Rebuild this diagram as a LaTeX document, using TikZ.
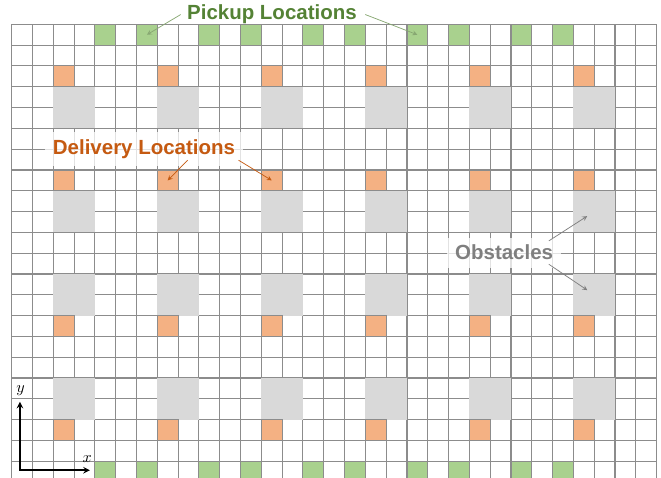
\documentclass[tikz,border=0pt]{standalone}
\usepackage{fontspec}
\setsansfont{Liberation Sans}
\usepackage{xcolor}
\usepackage{tikz}
\usetikzlibrary{arrows, positioning, calc}
\definecolor{pickfill}{HTML}{A9D18E}
\definecolor{pickdark}{HTML}{548235}
\definecolor{delfill}{HTML}{F4B183}
\definecolor{deldark}{HTML}{C55A11}
\definecolor{obsfill}{HTML}{D9D9D9}
\definecolor{obsdark}{HTML}{7F7F7F}
\tikzstyle{gridline} = [draw=black!45, line width=0.75pt]
\tikzstyle{pick} = [rectangle, minimum size=0.5cm, inner sep=0pt, draw=black!45, line width=0.75pt, fill=pickfill]
\tikzstyle{deliv} = [rectangle, minimum size=0.5cm, inner sep=0pt, draw=black!45, line width=0.75pt, fill=delfill]
\tikzstyle{obstacle} = [rectangle, minimum size=1cm, inner sep=0pt, fill=obsfill]
\tikzstyle{tag} = [font=\sffamily\bfseries\fontsize{14}{17}\selectfont, inner xsep=0.2cm, inner ysep=0.18cm, fill=white, fill opacity=0.75, text opacity=1]
\tikzstyle{pointer} = [->, >=stealth, line width=0.5pt]
\tikzstyle{axis} = [<->, >=stealth, line width=1pt]

\begin{document}
\begin{tikzpicture}[x=0.5cm, y=0.5cm]
    \useasboundingbox (-0.56,0.24) rectangle (31.21,23.17);
    \clip (-0.56,0.24) rectangle (31.21,23.17);
    \draw [gridline, step=0.5cm] (0,0) grid (31,22);

    % obstacles and delivery locations
    \foreach \c in {2,7,12,17,22,27} {
        \foreach \r in {3,8,12,17}
            \node (obs-\c-\r) [obstacle] at (\c+1,\r+1) {};
        \foreach \r in {2,7,14,19}
            \node (del-\c-\r) [deliv] at (\c+0.5,\r+0.5) {};
    }
    % pickup locations, top and bottom rows
    \foreach \c in {4,6,9,11,14,16,19,21,24,26} {
        \node (pick-top-\c) [pick] at (\c+0.5,21.5) {};
        \node (pick-bot-\c) [pick] at (\c+0.5,0.5) {};
    }

    \node (pickup) [tag, text=pickdark, fill=none] at (12.51,22.47) {Pickup Locations};
    \node (delivery) [tag, text=deldark] at (6.36,16.0) {Delivery Locations};
    \node (obstacles) [tag, text=obsdark] at (23.67,11.03) {Obstacles};

    \draw [pointer, draw=pickdark!70] ([xshift=0.05cm]pickup.west) -- (pick-top-6.center);
    \draw [pointer, draw=pickdark!70] (pickup.east) -- (pick-top-19.center);
    \draw [pointer, draw=deldark] ([xshift=1.05cm, yshift=0.15cm]delivery.south) -- (del-7-14.center);
    \draw [pointer, draw=deldark] ([xshift=-0.12cm, yshift=0.15cm]delivery.south east) -- (del-12-14.center);
    \draw [pointer, draw=obsdark, shorten >=0.2cm] ([xshift=-0.31cm, yshift=0.28cm]obstacles.east) -- (obs-27-12.center);
    \draw [pointer, draw=obsdark, shorten >=0.2cm] ([xshift=-0.31cm, yshift=-0.28cm]obstacles.east) -- (obs-27-8.center);

    % axes
    \coordinate (ytip) at (0.4,3.86);
    \coordinate (xtip) at (3.76,0.57);
    \node (ylab) [font=\fontsize{11}{13}\selectfont] at (0.43,4.39) {$y$};
    \node (xlab) [font=\fontsize{11}{13}\selectfont] at (3.63,1.09) {$x$};
    \draw [axis] (ytip) |- (xtip);
\end{tikzpicture}
\end{document}
